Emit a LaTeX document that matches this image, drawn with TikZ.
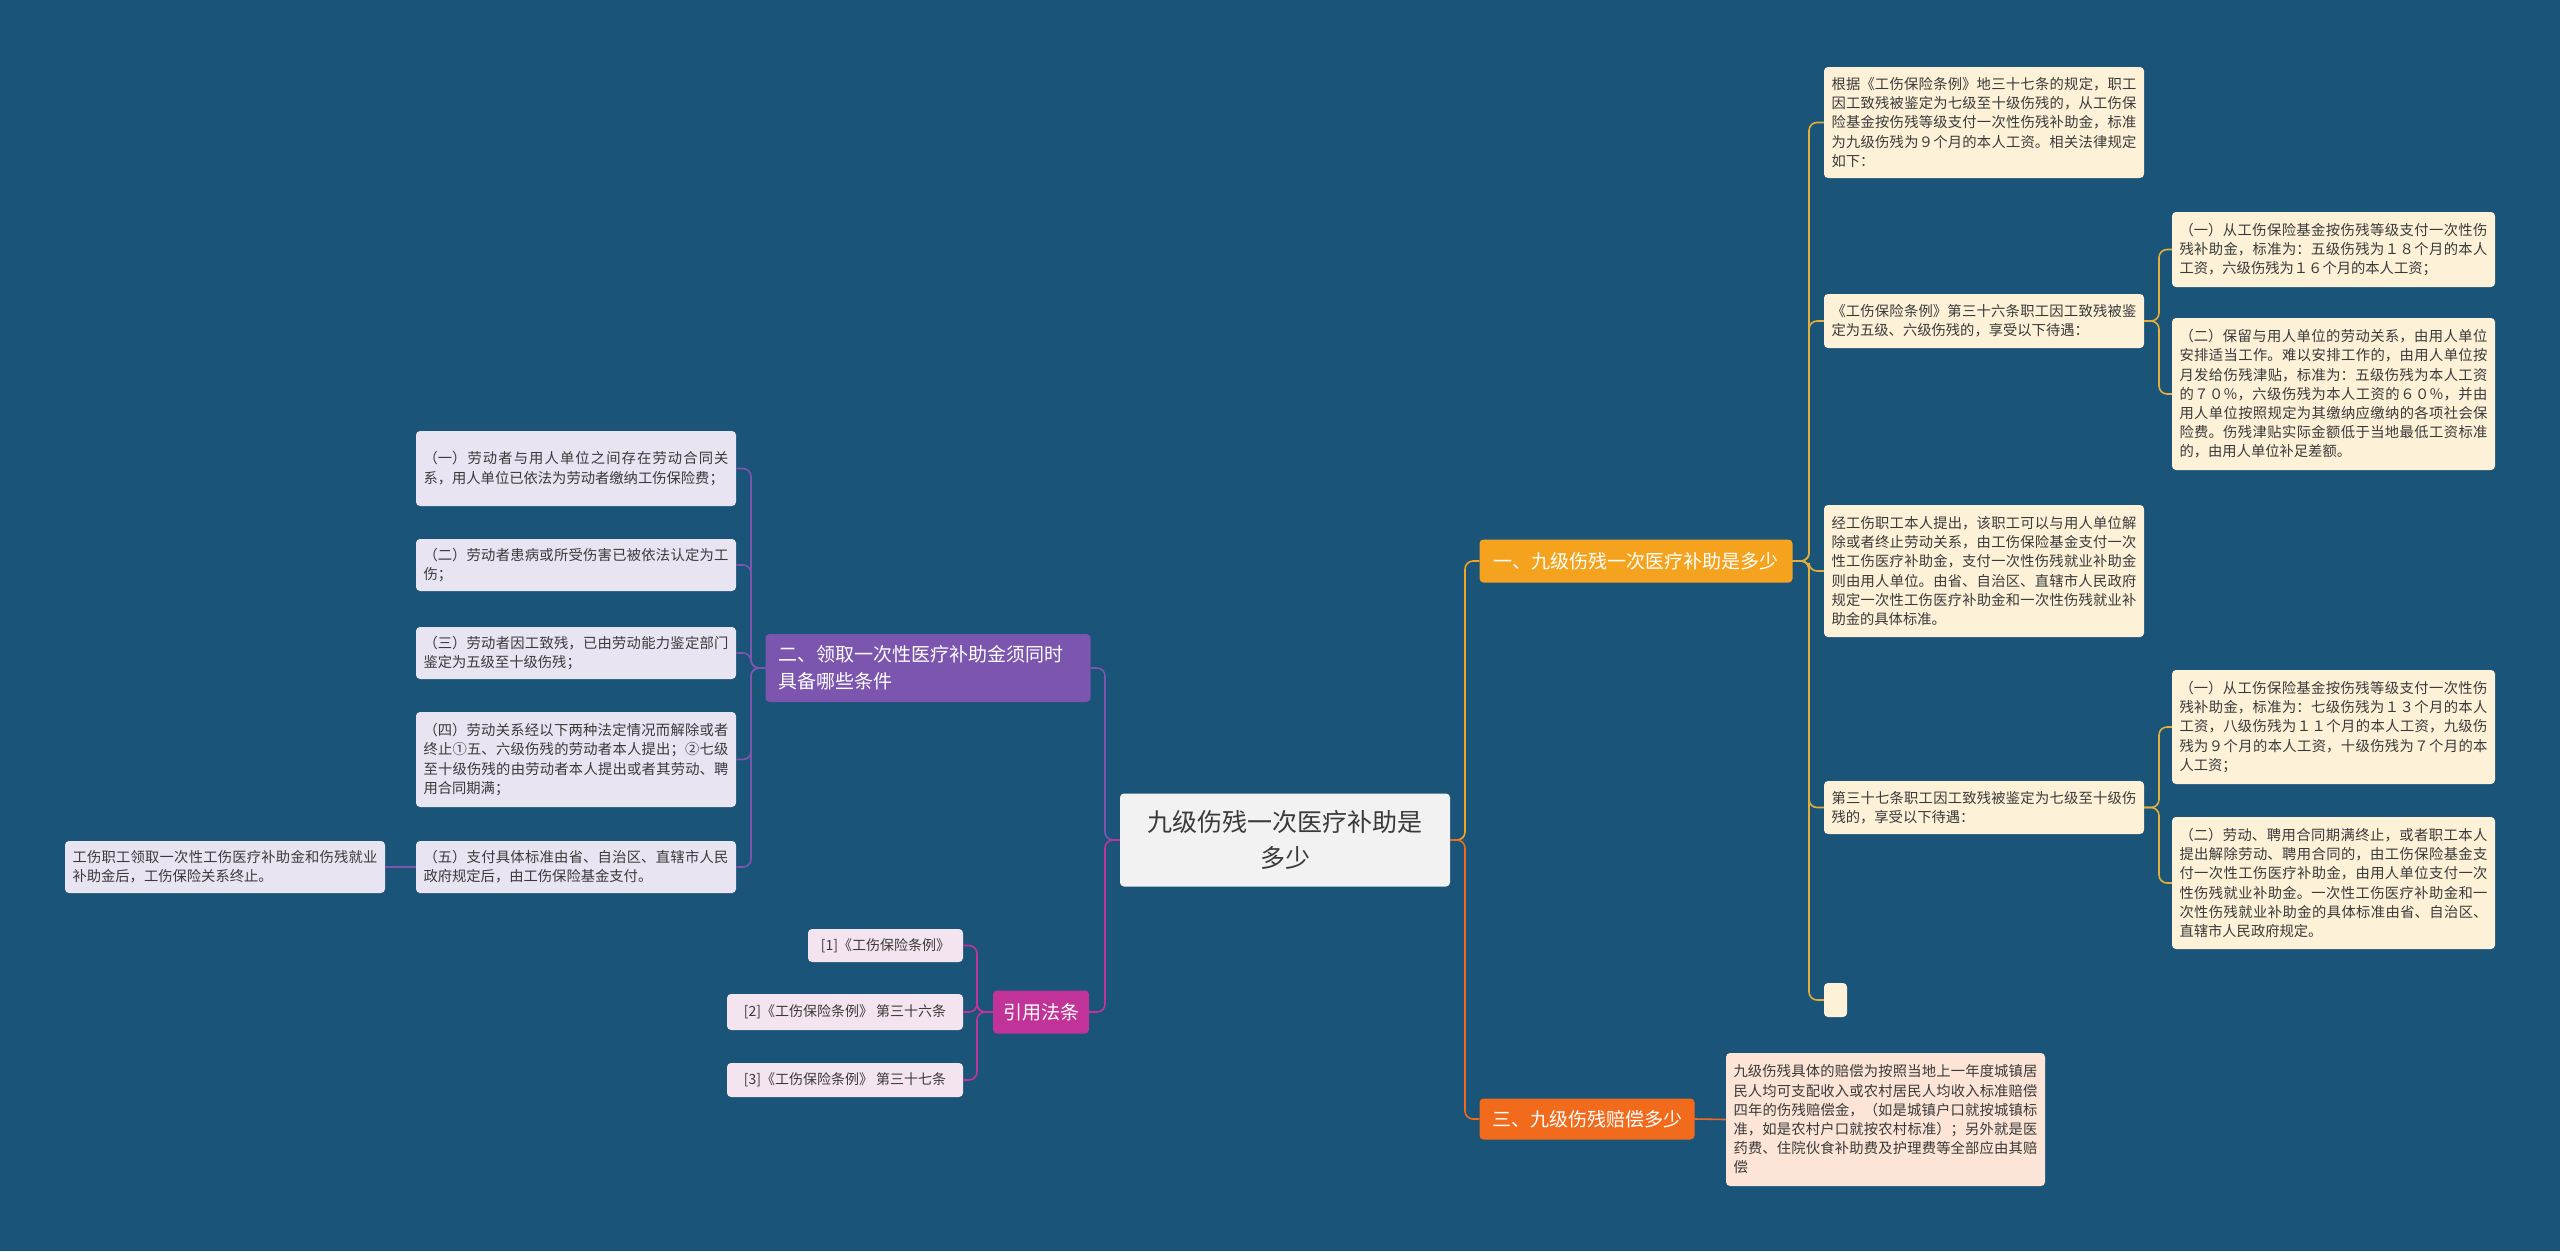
\documentclass[tikz,border=0pt]{standalone}
\usepackage{fontspec}
\setmainfont{Noto Sans CJK SC}
\XeTeXlinebreaklocale "zh"
\XeTeXlinebreakskip=0pt plus 1pt
\definecolor{bg}{HTML}{1B5479}
\definecolor{org}{HTML}{F5A31E}
\definecolor{red}{HTML}{F26A1B}
\definecolor{pur}{HTML}{7B55AE}
\definecolor{mag}{HTML}{C2339A}
\definecolor{gold}{HTML}{E4AE3A}
\definecolor{cream}{HTML}{FDF1D8}
\definecolor{peach}{HTML}{FCE4D6}
\definecolor{lav}{HTML}{E8E4F2}
\definecolor{pink}{HTML}{F4E4EF}
\definecolor{txt}{HTML}{3A3A3A}
\begin{document}
\begin{tikzpicture}[x=1pt,y=-1pt,
 leaf/.style={rounded corners=4pt,inner sep=0pt,text width=#1,align=justify,text=txt,font=\fontsize{14.3}{19.2}\selectfont},
 box/.style={rounded corners=4pt,inner sep=0pt},
 ln/.style={line width=1.6pt,rounded corners=8pt}]
\fill[bg] (0,0) rectangle (2560,1251);
\useasboundingbox (0,0) rectangle (2560,1251);
% root
\node[box,fill=white!95!black,minimum width=330,minimum height=93,align=center,text=txt,font=\fontsize{25}{36}\selectfont] (root) at (1285,840) {九级伤残一次医疗补助是\\多少};
% branches
\node[box,fill=org,minimum width=313,minimum height=43,text=white,font=\fontsize{19}{24}\selectfont] (b1) at (1636,561) {一、九级伤残一次医疗补助是多少};
\node[box,fill=red,minimum width=215,minimum height=41,text=white,font=\fontsize{19}{24}\selectfont] (b3) at (1587,1119) {三、九级伤残赔偿多少};
\node[box,fill=pur,minimum width=325,minimum height=68,text width=300,align=left,text=white,font=\fontsize{19}{27}\selectfont] (b2) at (928,668) {二、领取一次性医疗补助金须同时\\具备哪些条件};
\node[box,fill=mag,minimum width=96,minimum height=43,text=white,font=\fontsize{19}{24}\selectfont] (b4) at (1041,1012) {引用法条};
% right leaves
\node[box,fill=cream,minimum width=320,minimum height=111] (n1f) at (1984,122.5) {};
\node[leaf=305] (n1) at (n1f) {根据《工伤保险条例》地三十七条的规定，职工因工致残被鉴定为七级至十级伤残的，从工伤保险基金按伤残等级支付一次性伤残补助金，标准为九级伤残为９个月的本人工资。相关法律规定如下：};
\node[box,fill=cream,minimum width=320,minimum height=54] (n2f) at (1984,321) {};
\node[leaf=305] (n2) at (n2f) {《工伤保险条例》第三十六条职工因工致残被鉴定为五级、六级伤残的，享受以下待遇：};
\node[box,fill=cream,minimum width=323,minimum height=75] (n2af) at (2333.5,249.5) {};
\node[leaf=308] at (n2af) {（一）从工伤保险基金按伤残等级支付一次性伤残补助金，标准为：五级伤残为１８个月的本人工资，六级伤残为１６个月的本人工资；};
\node[box,fill=cream,minimum width=323,minimum height=152] (n2bf) at (2333.5,394) {};
\node[leaf=308] at (n2bf) {（二）保留与用人单位的劳动关系，由用人单位安排适当工作。难以安排工作的，由用人单位按月发给伤残津贴，标准为：五级伤残为本人工资的７０％，六级伤残为本人工资的６０％，并由用人单位按照规定为其缴纳应缴纳的各项社会保险费。伤残津贴实际金额低于当地最低工资标准的，由用人单位补足差额。};
\node[box,fill=cream,minimum width=320,minimum height=132] (n3f) at (1984,571) {};
\node[leaf=305] at (n3f) {经工伤职工本人提出，该职工可以与用人单位解除或者终止劳动关系，由工伤保险基金支付一次性工伤医疗补助金，支付一次性伤残就业补助金则由用人单位。由省、自治区、直辖市人民政府规定一次性工伤医疗补助金和一次性伤残就业补助金的具体标准。};
\node[box,fill=cream,minimum width=320,minimum height=53] (n4f) at (1984,807.5) {};
\node[leaf=305] at (n4f) {第三十七条职工因工致残被鉴定为七级至十级伤残的，享受以下待遇：};
\node[box,fill=cream,minimum width=323,minimum height=114] (n4af) at (2333.5,727) {};
\node[leaf=308] at (n4af) {（一）从工伤保险基金按伤残等级支付一次性伤残补助金，标准为：七级伤残为１３个月的本人工资，八级伤残为１１个月的本人工资，九级伤残为９个月的本人工资，十级伤残为７个月的本人工资；};
\node[box,fill=cream,minimum width=323,minimum height=132] (n4bf) at (2333.5,883) {};
\node[leaf=308] at (n4bf) {（二）劳动、聘用合同期满终止，或者职工本人提出解除劳动、聘用合同的，由工伤保险基金支付一次性工伤医疗补助金，由用人单位支付一次性伤残就业补助金。一次性工伤医疗补助金和一次性伤残就业补助金的具体标准由省、自治区、直辖市人民政府规定。};
\node[box,fill=cream,minimum width=23,minimum height=34] (n5f) at (1835.5,1000) {};
\node[box,fill=peach,minimum width=319,minimum height=133] (n6f) at (1885.5,1119.5) {};
\node[leaf=304] at (n6f) {九级伤残具体的赔偿为按照当地上一年度城镇居民人均可支配收入或农村居民人均收入标准赔偿四年的伤残赔偿金，（如是城镇户口就按城镇标准，如是农村户口就按农村标准）；另外就是医药费、住院伙食补助费及护理费等全部应由其赔偿};
% left leaves
\node[box,fill=lav,minimum width=320,minimum height=75] (l1f) at (576,468.5) {};
\node[leaf=305] at (l1f) {（一）劳动者与用人单位之间存在劳动合同关系，用人单位已依法为劳动者缴纳工伤保险费；};
\node[box,fill=lav,minimum width=320,minimum height=52] (l2f) at (576,565) {};
\node[leaf=305] at (l2f) {（二）劳动者患病或所受伤害已被依法认定为工伤；};
\node[box,fill=lav,minimum width=320,minimum height=52] (l3f) at (576,653) {};
\node[leaf=305] at (l3f) {（三）劳动者因工致残，已由劳动能力鉴定部门鉴定为五级至十级伤残；};
\node[box,fill=lav,minimum width=320,minimum height=95] (l4f) at (576,759.5) {};
\node[leaf=305] at (l4f) {（四）劳动关系经以下两种法定情况而解除或者终止①五、六级伤残的劳动者本人提出；②七级至十级伤残的由劳动者本人提出或者其劳动、聘用合同期满；};
\node[box,fill=lav,minimum width=320,minimum height=52] (l5f) at (576,867) {};
\node[leaf=305] at (l5f) {（五）支付具体标准由省、自治区、直辖市人民政府规定后，由工伤保险基金支付。};
\node[box,fill=lav,minimum width=320,minimum height=52] (l6f) at (225,867) {};
\node[leaf=305] at (l6f) {工伤职工领取一次性工伤医疗补助金和伤残就业补助金后，工伤保险关系终止。};
% citations
\node[box,fill=pink,minimum width=155,minimum height=33,text=txt,font=\fontsize{14}{18}\selectfont] (c1) at (885.5,945.5) {[1]《工伤保险条例》};
\node[box,fill=pink,minimum width=236,minimum height=36,text=txt,font=\fontsize{14}{18}\selectfont] (c2) at (845,1012) {[2]《工伤保险条例》 第三十六条};
\node[box,fill=pink,minimum width=236,minimum height=34,text=txt,font=\fontsize{14}{18}\selectfont] (c3) at (845,1080) {[3]《工伤保险条例》 第三十七条};
% trunk coordinates
\coordinate (tr) at (1465,0);
\coordinate (tl) at (1105,0);
\coordinate (t1) at (1809,0);
\coordinate (t2) at (2159,0);
\coordinate (t4) at (2159,0);
\coordinate (tp) at (751,0);
\coordinate (tm) at (977,0);
% connectors
\draw[ln,org] (root.east) -- (root.east -| tr) |- (b1.west);
\draw[ln,red] (root.east) -- (root.east -| tr) |- (b3.west);
\draw[ln,pur] (root.west) -- (root.west -| tl) |- (b2.east);
\draw[ln,mag] (root.west) -- (root.west -| tl) |- (b4.east);
\foreach \n in {n1f,n2f,n3f,n4f,n5f}
  \draw[ln,gold] (b1.east) -- (b1.east -| t1) |- (\n.west);
\foreach \n in {n2af,n2bf}
  \draw[ln,gold] (n2f.east) -- (n2f.east -| t2) |- (\n.west);
\foreach \n in {n4af,n4bf}
  \draw[ln,gold] (n4f.east) -- (n4f.east -| t4) |- (\n.west);
\draw[ln,red] (b3.east) -- (n6f.west);
\foreach \n in {l1f,l2f,l3f,l4f,l5f}
  \draw[ln,pur] (b2.west) -- (b2.west -| tp) |- (\n.east);
\draw[ln,pur] (l5f.west) -- (l6f.east);
\foreach \n in {c1,c2,c3}
  \draw[ln,mag] (b4.west) -- (b4.west -| tm) |- (\n.east);
\end{tikzpicture}
\end{document}
